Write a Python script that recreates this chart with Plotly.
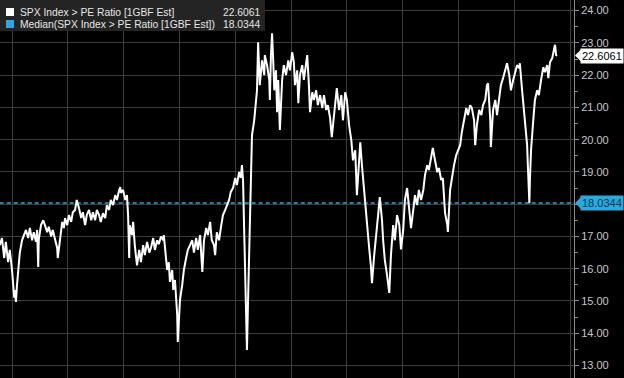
import plotly.graph_objects as go

# ---- data (decimal year, P/E ratio) ----
years = [
    2015.78, 2015.82, 2015.86, 2015.89, 2015.93, 2015.96, 2016.00, 2016.02, 2016.04, 2016.05,
    2016.07, 2016.09, 2016.11, 2016.14, 2016.18, 2016.22, 2016.25, 2016.29, 2016.32, 2016.36,
    2016.39, 2016.43, 2016.45, 2016.47, 2016.48, 2016.52, 2016.56, 2016.59, 2016.63, 2016.66,
    2016.70, 2016.73, 2016.77, 2016.81, 2016.82, 2016.86, 2016.90, 2016.93, 2016.95, 2016.99,
    2017.02, 2017.06, 2017.09, 2017.13, 2017.16, 2017.20, 2017.24, 2017.27, 2017.31, 2017.34,
    2017.38, 2017.42, 2017.45, 2017.49, 2017.52, 2017.56, 2017.59, 2017.63, 2017.67, 2017.70,
    2017.74, 2017.77, 2017.81, 2017.85, 2017.88, 2017.92, 2017.94, 2017.95, 2017.99, 2018.03,
    2018.06, 2018.08, 2018.10, 2018.11, 2018.15, 2018.17, 2018.20, 2018.24, 2018.28, 2018.31,
    2018.35, 2018.38, 2018.42, 2018.46, 2018.49, 2018.53, 2018.56, 2018.60, 2018.63, 2018.67,
    2018.71, 2018.72, 2018.76, 2018.78, 2018.81, 2018.83, 2018.87, 2018.89, 2018.92, 2018.94,
    2018.96, 2018.97, 2018.99, 2019.01, 2019.05, 2019.08, 2019.12, 2019.15, 2019.19, 2019.23,
    2019.26, 2019.30, 2019.33, 2019.37, 2019.41, 2019.44, 2019.48, 2019.51, 2019.55, 2019.58,
    2019.62, 2019.64, 2019.67, 2019.71, 2019.75, 2019.78, 2019.82, 2019.85, 2019.89, 2019.92,
    2019.96, 2020.00, 2020.03, 2020.07, 2020.10, 2020.12, 2020.14, 2020.16, 2020.18, 2020.19,
    2020.21, 2020.23, 2020.25, 2020.27, 2020.28, 2020.30, 2020.34, 2020.37, 2020.39, 2020.41,
    2020.43, 2020.44, 2020.48, 2020.52, 2020.53, 2020.57, 2020.61, 2020.62, 2020.64, 2020.66,
    2020.68, 2020.70, 2020.73, 2020.75, 2020.77, 2020.80, 2020.84, 2020.87, 2020.91, 2020.95,
    2020.98, 2021.02, 2021.05, 2021.07, 2021.11, 2021.13, 2021.16, 2021.20, 2021.23, 2021.27,
    2021.29, 2021.32, 2021.34, 2021.38, 2021.41, 2021.45, 2021.48, 2021.52, 2021.56, 2021.59,
    2021.63, 2021.66, 2021.70, 2021.73, 2021.77, 2021.81, 2021.82, 2021.86, 2021.90, 2021.93,
    2021.97, 2022.00, 2022.04, 2022.08, 2022.11, 2022.15, 2022.18, 2022.22, 2022.24, 2022.27,
    2022.29, 2022.33, 2022.36, 2022.40, 2022.43, 2022.45, 2022.49, 2022.52, 2022.56, 2022.59,
    2022.63, 2022.65, 2022.68, 2022.72, 2022.76, 2022.79, 2022.83, 2022.86, 2022.90, 2022.94,
    2022.97, 2023.01, 2023.04, 2023.08, 2023.11, 2023.15, 2023.19, 2023.22, 2023.26, 2023.29,
    2023.33, 2023.37, 2023.40, 2023.44, 2023.47, 2023.51, 2023.54, 2023.58, 2023.62, 2023.65,
    2023.69, 2023.72, 2023.76, 2023.80, 2023.81, 2023.85, 2023.89, 2023.92, 2023.96, 2023.99,
    2024.03, 2024.06, 2024.10, 2024.14, 2024.17, 2024.21, 2024.24, 2024.28, 2024.30, 2024.33,
    2024.37, 2024.41, 2024.44, 2024.48, 2024.51, 2024.53, 2024.57, 2024.58, 2024.62, 2024.66,
    2024.69, 2024.73, 2024.76, 2024.80, 2024.84, 2024.87, 2024.91, 2024.94, 2024.98, 2025.01,
    2025.05, 2025.09, 2025.10, 2025.14, 2025.18, 2025.21, 2025.23, 2025.25, 2025.27, 2025.28,
    2025.30, 2025.34, 2025.37, 2025.41, 2025.44, 2025.48, 2025.52, 2025.55, 2025.59, 2025.61,
    2025.64, 2025.68, 2025.71, 2025.73, 2025.75, 2025.77,
]
pe_ratio = [
    16.73, 16.95, 16.33, 16.83, 16.20, 16.58, 15.96, 15.50, 15.10, 15.34,
    14.97, 15.50, 16.00, 16.50, 16.88, 17.04, 17.20, 16.95, 17.26, 16.88,
    17.13, 16.83, 17.20, 16.05, 16.90, 17.35, 17.50, 17.35, 17.13, 17.30,
    17.00, 17.20, 16.88, 16.64, 16.33, 16.90, 17.45, 17.26, 17.57, 17.35,
    17.66, 17.45, 17.75, 17.82, 18.13, 17.88, 17.57, 17.75, 17.35, 17.66,
    17.82, 17.50, 17.75, 17.50, 17.82, 17.66, 17.45, 17.72, 17.57, 17.97,
    17.82, 18.13, 17.97, 18.28, 18.13, 18.44, 18.53, 18.35, 18.44, 18.13,
    18.28, 17.66, 16.33, 17.35, 17.04, 17.45, 16.73, 16.10, 16.58, 16.20,
    16.73, 16.42, 16.83, 16.50, 16.64, 16.95, 16.58, 16.88, 16.76, 17.00,
    16.88, 17.04, 16.42, 15.96, 16.20, 15.59, 15.96, 15.34, 15.65, 15.03,
    14.57, 13.73, 14.40, 15.03, 15.50, 15.96, 16.33, 16.58, 16.73, 16.88,
    16.50, 16.95, 16.58, 17.04, 15.90, 16.88, 17.26, 17.04, 17.45, 16.88,
    16.73, 16.42, 17.13, 16.88, 17.35, 17.66, 17.82, 17.97, 18.13, 18.38,
    18.50, 18.81, 18.59, 19.00, 18.81, 19.21, 18.75, 17.20, 15.65, 14.10,
    13.48, 15.03, 16.58, 18.13, 19.37, 20.14, 20.60, 21.07, 21.53, 23.02,
    22.15, 21.69, 22.46, 22.00, 22.62, 22.31, 21.85, 21.23, 22.62, 23.30,
    22.46, 21.53, 22.15, 20.85, 21.85, 20.30, 21.85, 22.31, 22.00, 22.46,
    22.15, 22.71, 22.40, 21.69, 22.15, 21.13, 22.00, 22.31, 21.85, 22.40,
    22.62, 21.69, 20.85, 21.47, 21.23, 21.53, 21.07, 21.38, 20.98, 21.38,
    20.92, 21.07, 20.67, 20.08, 20.76, 21.38, 21.60, 20.92, 21.38, 20.60,
    21.47, 21.23, 20.45, 19.98, 19.36, 19.67, 18.28, 19.36, 19.92, 19.21,
    18.81, 17.82, 17.20, 16.64, 16.10, 15.55, 16.42, 16.88, 17.66, 18.22,
    17.50, 16.88, 16.27, 15.80, 15.25, 16.42, 17.35, 16.88, 17.66, 17.35,
    16.60, 17.20, 18.13, 18.50, 17.97, 17.26, 17.82, 18.28, 17.97, 18.44,
    18.13, 18.44, 18.90, 19.21, 19.06, 19.52, 19.74, 19.36, 18.99, 19.12,
    18.75, 18.81, 17.72, 17.35, 17.14, 18.44, 18.90, 19.21, 19.52, 19.67,
    19.83, 20.23, 20.60, 20.98, 20.76, 21.07, 20.98, 20.60, 19.83, 20.45,
    20.92, 20.76, 21.07, 21.23, 21.69, 21.75, 20.60, 19.77, 20.92, 21.23,
    20.76, 21.38, 21.69, 21.91, 22.15, 22.37, 22.00, 21.53, 21.85, 22.09,
    22.31, 22.22, 22.37, 21.53, 20.76, 20.30, 19.83, 18.90, 18.03, 18.75,
    19.67, 20.60, 21.23, 21.53, 21.38, 21.85, 22.25, 22.09, 22.31, 21.91,
    22.40, 22.53, 22.84, 22.94, 22.62, 22.6061,
]
median_value = 18.0344
last_value = 22.6061
series_name = "SPX Index > PE Ratio [1GBF Est]"
median_name = "Median(SPX Index > PE Ratio [1GBF Est])"
y_ticks = [13, 14, 15, 16, 17, 18, 19, 20, 21, 22, 23, 24]
# the 18.00 label is hidden behind the median tag in the reference
y_tick_labels = ["13.00", "14.00", "15.00", "16.00", "17.00", "",
                 "19.00", "20.00", "21.00", "22.00", "23.00", "24.00"]

# ---- styling ----
W, H = 624, 378
R_MARGIN = 50
PLOT_W = W - R_MARGIN
CYAN = "#2aa9de"
GRID = "#3c3c3c"
AXIS = "#8c8c8c"
FONT = "Liberation Sans"
Y_RANGE = [12.61, 24.33]

def px_x(p):
    return p / PLOT_W

def px_y(p):
    return 1 - p / H

fig = go.Figure()
fig.add_trace(go.Scatter(
    x=[years[0], years[-1] + 0.6], y=[median_value, median_value],
    mode="lines", line=dict(color=CYAN, width=1.6, dash="4px,3px"),
    hoverinfo="skip", showlegend=False,
))
fig.add_trace(go.Scatter(
    x=years, y=pe_ratio, mode="lines",
    line=dict(color="white", width=2), showlegend=False,
))

fig.update_layout(
    width=W, height=H,
    margin=dict(l=0, r=R_MARGIN, t=0, b=0),
    paper_bgcolor="black", plot_bgcolor="black",
    font=dict(family=FONT, size=11, color="#c8c8c8"),
    showlegend=False,
)
fig.update_xaxes(
    range=[2015.785, 2026.07], tick0=2016, dtick=1,
    showgrid=True, gridcolor=GRID, gridwidth=1,
    showticklabels=False, zeroline=False, showline=False, ticks="",
)
fig.update_yaxes(
    side="right", range=Y_RANGE,
    tickvals=y_ticks, ticktext=y_tick_labels,
    showgrid=True, gridcolor=GRID, gridwidth=1, zeroline=False,
    showline=True, linecolor=AXIS, linewidth=1,
    ticks="outside", ticklen=4, tickcolor=AXIS,
    tickfont=dict(family=FONT, size=11, color="#c8c8c8"),
    minor=dict(tickvals=[v + 0.5 for v in y_ticks], ticks="outside",
               ticklen=3, tickcolor=AXIS, showgrid=False),
)

shapes = []
# legend box
shapes.append(dict(type="rect", xref="paper", yref="paper", layer="above",
                   x0=0, x1=px_x(265), y0=px_y(31), y1=1,
                   fillcolor="#242424", line=dict(width=0)))
shapes.append(dict(type="rect", xref="paper", yref="paper", layer="above",
                   x0=px_x(6), x1=px_x(14), y0=px_y(16), y1=px_y(8),
                   fillcolor="white", line=dict(width=0)))
shapes.append(dict(type="rect", xref="paper", yref="paper", layer="above",
                   x0=px_x(6), x1=px_x(14), y0=px_y(28), y1=px_y(20),
                   fillcolor=CYAN, line=dict(width=0)))

# value tags on the axis (pointer triangles)
for val, col in [(last_value, "white"), (median_value, CYAN)]:
    dy = 6 / H * (Y_RANGE[1] - Y_RANGE[0])
    shapes.append(dict(type="path", xref="paper", yref="y", layer="above",
                       path=f"M {px_x(575)},{val} L {px_x(581)},{val + dy} L {px_x(581)},{val - dy} Z",
                       fillcolor=col, line=dict(width=0)))
fig.update_layout(shapes=shapes)

LEG = dict(family=FONT, size=10.3, color="#e6e6e6")
annotations = [
    dict(xref="paper", yref="paper", x=px_x(18), y=px_y(12), xanchor="left", yanchor="middle",
         text=series_name, showarrow=False, font=LEG),
    dict(xref="paper", yref="paper", x=px_x(262), y=px_y(12), xanchor="right", yanchor="middle",
         text=f"{last_value:.4f}", showarrow=False, font=LEG),
    dict(xref="paper", yref="paper", x=px_x(18), y=px_y(24), xanchor="left", yanchor="middle",
         text=median_name, showarrow=False, font=LEG),
    dict(xref="paper", yref="paper", x=px_x(262), y=px_y(24), xanchor="right", yanchor="middle",
         text=f"{median_value:.4f}", showarrow=False, font=LEG),
    dict(xref="paper", yref="y", x=px_x(580), y=last_value, xanchor="left", yanchor="middle",
         text=f"{last_value:.4f}", showarrow=False, bgcolor="white", borderpad=1,
         font=dict(family=FONT, size=11, color="black")),
    dict(xref="paper", yref="y", x=px_x(580), y=median_value, xanchor="left", yanchor="middle",
         text=f"{median_value:.4f}", showarrow=False, bgcolor=CYAN, borderpad=1,
         font=dict(family=FONT, size=11, color="#0b3550")),
]
fig.update_layout(annotations=annotations)

fig.write_html("out.html")
